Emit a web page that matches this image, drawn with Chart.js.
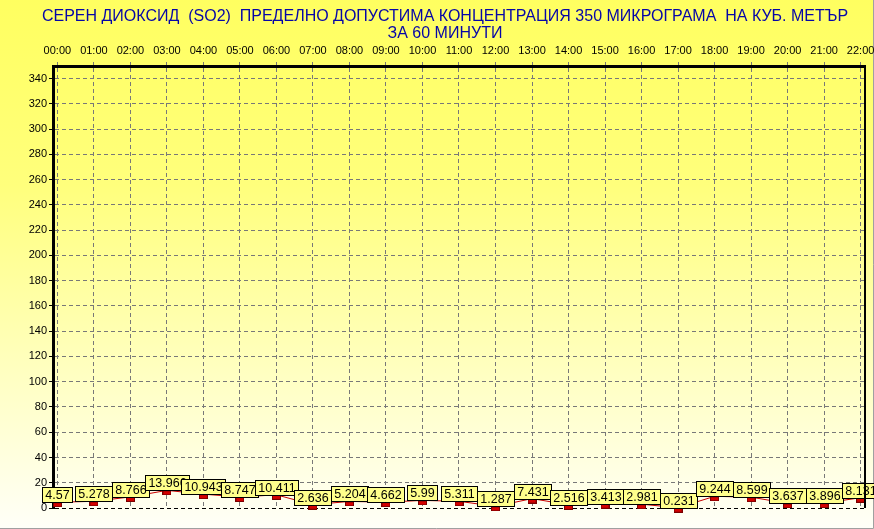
<!DOCTYPE html>
<html>
<head>
<meta charset="utf-8">
<script src="https://cdn.jsdelivr.net/npm/chart.js@4/dist/chart.umd.min.js"></script>
<style>
    html, body { margin: 0; padding: 0; background: #ffffff; }
    canvas { display: block; }
</style>
</head>
<body>
<canvas id="so2Chart" width="874" height="529"></canvas>
<script>
// Hourly SO2 values (micrograms per cubic metre)
const hours = ['00:00', '01:00', '02:00', '03:00', '04:00', '05:00', '06:00', '07:00',
    '08:00', '09:00', '10:00', '11:00', '12:00', '13:00', '14:00', '15:00',
    '16:00', '17:00', '18:00', '19:00', '20:00', '21:00', '22:00'];
const so2Values = [4.57, 5.278, 8.766, 13.966, 10.943, 8.747, 10.411, 2.636,
    5.204, 4.662, 5.99, 5.311, 1.287, 7.431, 2.516, 3.413,
    2.981, 0.231, 9.244, 8.599, 3.637, 3.896, 8.131];
const yTicks = [0, 20, 40, 60, 80, 100, 120, 140, 160, 180, 200, 220, 240, 260, 280, 300, 320, 340];
const titleLines = [
    'СЕРЕН ДИОКСИД  (SO2)  ПРЕДЕЛНО ДОПУСТИМА КОНЦЕНТРАЦИЯ 350 МИКРОГРАМА  НА КУБ. МЕТЪР',
    'ЗА 60 МИНУТИ'
];

const FONT = '"Liberation Sans", Arial, sans-serif';

// small red marker hanging under the value
const marker = document.createElement('canvas');
marker.width = 9;
marker.height = 10;
(function() {
    const m = marker.getContext('2d');
    m.fillStyle = '#d40000';
    m.fillRect(0, 5, 9, 5);
    m.strokeStyle = '#7a0000';
    m.lineWidth = 1;
    m.strokeRect(0.5, 5.5, 8, 4);
})();

const backgroundPlugin = {
    id: 'background',
    beforeDraw(chart) {
        const ctx = chart.ctx;
        const g = ctx.createLinearGradient(0, 0, 0, chart.height);
        g.addColorStop(0, '#ffff60');
        g.addColorStop(0.35, '#ffff7c');
        g.addColorStop(0.7, '#ffffc0');
        g.addColorStop(1, '#fffff8');
        ctx.save();
        ctx.fillStyle = g;
        ctx.fillRect(0, 0, chart.width, chart.height);

        // title
        ctx.fillStyle = '#0606a8';
        ctx.font = '16px ' + FONT;
        ctx.textAlign = 'center';
        ctx.textBaseline = 'alphabetic';
        ctx.fillText(titleLines[0], 445, 21);
        ctx.fillText(titleLines[1], 445, 38);

        // outer frame
        ctx.strokeStyle = '#a0a0a0';
        ctx.lineWidth = 1;
        ctx.beginPath();
        ctx.moveTo(0, 528.5);
        ctx.lineTo(873.5, 528.5);
        ctx.lineTo(873.5, 0);
        ctx.stroke();
        ctx.restore();
    },
    afterDraw(chart) {
        const {ctx, chartArea} = chart;
        ctx.save();
        ctx.strokeStyle = '#000';
        ctx.lineWidth = 2;
        ctx.beginPath();
        ctx.moveTo(chartArea.right, chartArea.top - 1);
        ctx.lineTo(chartArea.right, chartArea.bottom);
        ctx.stroke();
        ctx.restore();
    }
};

const valueLabelPlugin = {
    id: 'valueLabels',
    afterDatasetsDraw(chart) {
        const ctx = chart.ctx;
        const meta = chart.getDatasetMeta(0);
        ctx.save();
        ctx.font = '12.5px ' + FONT;
        ctx.textAlign = 'center';
        ctx.textBaseline = 'middle';
        meta.data.forEach((pt, i) => {
            const text = String(so2Values[i]);
            const w = Math.round(ctx.measureText(text).width) + 6;
            const h = 15;
            const x = Math.round(pt.x - w / 2) + 0.5;
            const y = Math.round(pt.y - h) + 0.5;
            ctx.fillStyle = '#ffff8c';
            ctx.fillRect(x, y, w, h);
            ctx.strokeStyle = '#000';
            ctx.lineWidth = 1;
            ctx.strokeRect(x, y, w, h);
            ctx.fillStyle = '#000';
            ctx.fillText(text, x + w / 2, y + h / 2 + 0.5);
        });
        ctx.restore();
    }
};

const ctx = document.getElementById('so2Chart').getContext('2d');
const so2Chart = new Chart(ctx, {
    type: 'line',
    data: {
        datasets: [{
            label: 'SO2',
            data: so2Values.map((v, i) => ({x: i, y: v})),
            borderColor: '#c80000',
            borderWidth: 1,
            tension: 0,
            pointStyle: marker,
            pointRadius: 4,
            clip: false
        }]
    },
    options: {
        responsive: false,
        animation: false,
        events: [],
        layout: {
            padding: {top: 40, left: 0, right: 9, bottom: 21}
        },
        plugins: {
            legend: {display: false},
            title: {display: false},
            tooltip: {enabled: false}
        },
        scales: {
            x: {
                type: 'linear',
                position: 'top',
                min: -0.12,
                max: 22.12,
                afterBuildTicks(scale) {
                    scale.ticks = hours.map((h, i) => ({value: i}));
                },
                afterFit(scale) {
                    scale.height = 26;
                    scale.paddingLeft = 0;
                    scale.paddingRight = 0;
                },
                ticks: {
                    autoSkip: false,
                    maxRotation: 0,
                    padding: 4,
                    color: '#000',
                    font: {family: FONT, size: 11},
                    callback: (value) => hours[value]
                },
                grid: {
                    color: '#787878',
                    lineWidth: 1,
                    drawTicks: true,
                    tickLength: 4,
                    tickColor: '#787878'
                },
                border: {
                    display: true,
                    color: '#000',
                    width: 3,
                    dash: [4, 3]
                }
            },
            y: {
                type: 'linear',
                min: 0,
                max: 350,
                afterBuildTicks(scale) {
                    scale.ticks = yTicks.map(v => ({value: v}));
                },
                afterFit(scale) {
                    scale.width = 53;
                },
                ticks: {
                    padding: 2,
                    color: '#000',
                    font: {family: FONT, size: 11}
                },
                grid: {
                    color: (c) => c.tick && c.tick.value === 0 ? '#000' : '#787878',
                    lineWidth: 1,
                    drawTicks: true,
                    tickLength: 4,
                    tickColor: '#000'
                },
                border: {
                    display: true,
                    color: '#000',
                    width: 3,
                    dash: [4, 3]
                }
            }
        }
    },
    plugins: [backgroundPlugin, valueLabelPlugin]
});
</script>
</body>
</html>
